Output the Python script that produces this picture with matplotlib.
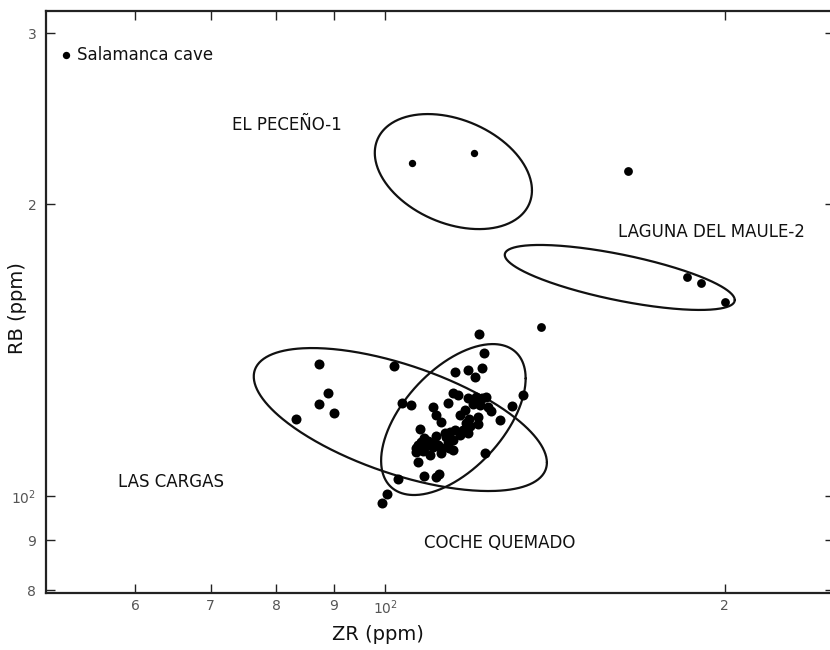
import numpy as np
import matplotlib
matplotlib.use("Agg")
import matplotlib.pyplot as plt
from matplotlib.ticker import FixedLocator, FixedFormatter, NullLocator

# ---------------- data (ppm) ----------------
salamanca_zr = [52.1]
salamanca_rb = [284.9]

peceno_zr = [105.5, 119.8]
peceno_rb = [220.4, 225.7]

laguna_zr = [185.1, 190.5, 200.0]
laguna_rb = [168.2, 165.8, 158.5]

other_zr = [164.1, 137.5]
other_rb = [216.3, 149.4]

cargas_zr = [87.4, 88.9, 87.4, 90.0, 83.4, 101.8, 103.5, 105.3, 102.6, 100.3, 99.4]
cargas_rb = [136.8, 127.6, 124.4, 121.9, 120.1, 136.1, 124.8, 124.0, 104.2, 100.4, 98.4]

coche_zr = [121.0, 122.2, 115.2, 118.4, 121.7, 120.1, 114.8, 116.0, 118.4, 120.4,
            121.7, 122.9, 121.3, 123.3, 124.2, 129.4, 132.5, 126.3, 113.6, 110.2,
            111.0, 112.1, 116.4, 118.7, 120.9, 120.9, 118.0, 107.3, 112.9, 114.1,
            115.2, 117.2, 118.4, 116.4, 108.3, 107.6, 106.9, 106.5, 110.2, 111.3,
            112.1, 113.6, 114.8, 114.8, 109.5, 112.1, 106.9, 122.5, 108.1, 111.0,
            111.6, 108.7, 118.8, 110.2, 113.1, 106.5, 109.0, 113.9, 117.6, 107.9,
            119.6, 110.8]
coche_rb = [146.9, 140.4, 134.1, 134.9, 135.4, 132.7, 127.8, 127.1, 126.2, 126.6,
            126.1, 126.6, 124.1, 123.6, 122.3, 123.8, 127.0, 119.8, 124.8, 123.4,
            121.2, 119.3, 121.1, 120.1, 120.7, 118.6, 118.8, 117.2, 116.0, 116.5,
            117.0, 117.0, 116.0, 115.6, 114.7, 113.8, 112.9, 112.0, 113.3, 112.9,
            112.0, 113.3, 114.2, 111.5, 110.2, 110.7, 108.5, 110.7, 104.9, 104.7,
            105.3, 112.6, 118.1, 112.3, 115.0, 111.0, 114.0, 112.2, 122.6, 111.4,
            124.5, 115.4]

# group ellipses: centre (ppm), half extents (log10 decades), phase (deg)
ell_names = ["EL PECEÑO-1", "LAGUNA DEL MAULE-2", "LAS CARGAS", "COCHE QUEMADO"]
ell_center_zr = [114.9, 161.4, 103.1, 114.9]
ell_center_rb = [216.0, 168.0, 119.9, 119.9]
ell_half_x = [0.0697, 0.1020, 0.1300, 0.0641]
ell_half_y = [0.0593, 0.0335, 0.0737, 0.0778]
ell_phase = [109, 134, 127, 57]

xticks = [60, 70, 80, 90, 100, 200]
xticklabels = ["6", "7", "8", "9", "10$^{2}$", "2"]
yticks = [80, 90, 100, 200, 300]
yticklabels = ["8", "9", "10$^{2}$", "2", "3"]

# ---------------- figure ----------------
fig = plt.figure(figsize=(8.3, 6.5), dpi=100)
ax = fig.add_axes([46 / 830, (650 - 593) / 650, (834 - 46) / 830, (593 - 11) / 650])
ax.set_xscale("log")
ax.set_yscale("log")
ax.set_xlim(50, 250)
ax.set_ylim(10 ** 1.9, 10 ** 2.5)

t = np.linspace(0, 2 * np.pi, 400)
for cx, cy, hx, hy, ph in zip(ell_center_zr, ell_center_rb, ell_half_x, ell_half_y, ell_phase):
    lx = np.log10(cx) + hx * np.cos(t)
    ly = np.log10(cy) + hy * np.cos(t - np.deg2rad(ph))
    ax.plot(10 ** lx, 10 ** ly, color="#111111", lw=1.6, solid_capstyle="round")

ax.scatter(coche_zr, coche_rb, s=52, color="black", zorder=3, linewidths=0)
ax.scatter(cargas_zr, cargas_rb, s=52, color="black", zorder=3, linewidths=0)
ax.scatter(laguna_zr, laguna_rb, s=40, color="black", zorder=3, linewidths=0)
ax.scatter(other_zr, other_rb, s=40, color="black", zorder=3, linewidths=0)
ax.scatter(peceno_zr, peceno_rb, s=28, color="black", zorder=3, linewidths=0)
ax.scatter(salamanca_zr, salamanca_rb, s=28, color="black", zorder=3, linewidths=0)

txt_kw = dict(fontsize=12, color="#111111", va="center", ha="left", family="DejaVu Sans")
ax.text(53.3, 284.9, "Salamanca cave", **txt_kw)
ax.text(73.1, 241.3, ell_names[0], **txt_kw)
ax.text(160.7, 187.2, ell_names[1], **txt_kw)
ax.text(57.9, 103.4, ell_names[2], **txt_kw)
ax.text(108.3, 89.4, ell_names[3], **txt_kw)

# ticks
ax.xaxis.set_major_locator(FixedLocator(xticks))
ax.xaxis.set_major_formatter(FixedFormatter(xticklabels))
ax.yaxis.set_major_locator(FixedLocator(yticks))
ax.yaxis.set_major_formatter(FixedFormatter(yticklabels))
ax.xaxis.set_minor_locator(NullLocator())
ax.yaxis.set_minor_locator(NullLocator())
ax.tick_params(which="major", direction="in", length=6.5, width=1.0, color="#222222",
               top=True, right=True, labelsize=10, labelcolor="#555555")
ax.tick_params(axis="x", pad=4)
ax.tick_params(axis="y", pad=7)

for sp in ax.spines.values():
    sp.set_linewidth(1.6)
    sp.set_color("#222222")

ax.set_xlabel("ZR (ppm)", fontsize=14, color="#111111")
ax.set_ylabel("RB (ppm)", fontsize=14, color="#111111")
ax.xaxis.set_label_coords(0.421, -0.055)
ax.yaxis.set_label_coords(-0.024, 0.49)

fig.savefig("out.png", dpi=100)
